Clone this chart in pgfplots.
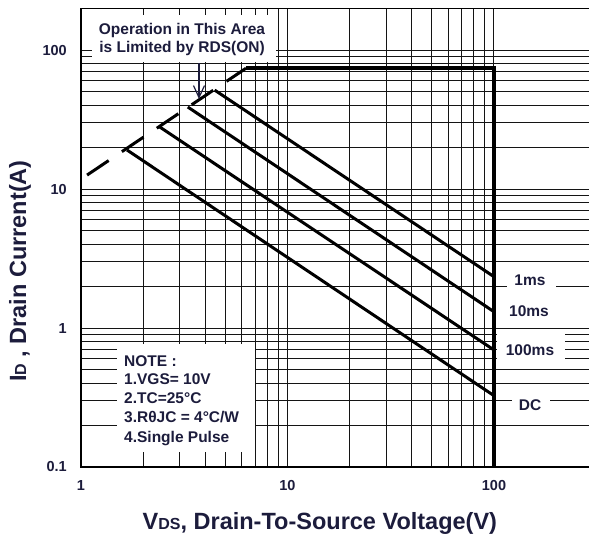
\documentclass[border=0pt]{standalone}
\usepackage{fontspec}
\setmainfont{Liberation Sans}
\usepackage{pgfplots}
\pgfplotsset{compat=1.18}
\usetikzlibrary{arrows.meta}
\definecolor{txt}{HTML}{1C1C3C}
\begin{document}
\begin{tikzpicture}
\useasboundingbox (-81pt,-75pt) rectangle (508pt,467pt);
\begin{axis}[
  xmode=log, ymode=log,
  scale only axis, width=511.5pt, height=458.8pt,
  xmin=1, xmax=300, ymin=0.1, ymax=200,
  xtick={1,10,100}, xticklabels={1,10,100},
  ytick={0.1,1,10,100}, yticklabels={0.1,1,10,100},
  grid=both,
  major grid style={black!92, line width=1pt},
  minor grid style={black!92, line width=1pt},
  major tick length=0pt, minor tick length=0pt,
  axis line style={black, line width=1.1pt},
  ticklabel style={font=\fontsize{14.5}{16}\selectfont\bfseries, text=txt, inner sep=0pt},
  xticklabel style={anchor=north, yshift=-13pt},
  yticklabel style={anchor=east, xshift=-14pt},
  xlabel={V{\fontsize{16}{16}\selectfont DS}, Drain-To-Source Voltage(V)},
  ylabel={I{\fontsize{16}{16}\selectfont D} , Drain Current(A)},
  label style={font=\fontsize{23.5}{27}\selectfont\bfseries, text=txt},
  xlabel style={at={(axis description cs:0.467,-0.122)}, anchor=center},
  ylabel style={at={(axis description cs:-0.1193,0.427)}, anchor=center},
]
\addplot[line width=3pt, dash pattern=on 26pt off 16pt] coordinates {(1.07,12.6) (6.3,74)};
\addplot[line width=4.2pt, line join=miter] coordinates {(6.3,74) (100,74) (100,0.1)};
\addplot[line width=3pt] coordinates {(4.44,51.5) (100,2.34)};
\addplot[line width=3pt] coordinates {(3.29,38.9) (100,1.31)};
\addplot[line width=3pt] coordinates {(2.41,27.9) (100,0.695)};
\addplot[line width=3pt] coordinates {(1.67,19.1) (100,0.326)};
\end{axis}
% annotation boxes
\fill[white] (11pt,405pt) rectangle (195pt,452pt);
\fill[white] (36pt,15pt) rectangle (174pt,123pt);
\fill[white] (426pt,172pt) rectangle (475pt,202pt);
\fill[white] (419pt,141pt) rectangle (484pt,172pt);
\fill[white] (416pt,104pt) rectangle (484pt,138pt);
\fill[white] (431pt,47pt) rectangle (469pt,81pt);
\begin{scope}[every node/.style={text=txt, font=\fontsize{15.5}{17}\selectfont\bfseries, inner sep=0pt}]
\node[anchor=base] at (101pt,432pt) {Operation in This Area};
\node[anchor=base] at (101pt,414pt) {is Limited by RDS(ON)};
\node[anchor=base west] at (43pt,101pt) {NOTE :};
\node[anchor=base west] at (43pt,83pt) {1.VGS= 10V};
\node[anchor=base west] at (43pt,64pt) {2.TC=25°C};
\node[anchor=base west] at (43pt,44.3pt) {3.RθJC = 4°C/W};
\node[anchor=base west] at (43pt,25pt) {4.Single Pulse};
\node[anchor=base] at (449pt,182pt) {1ms};
\node[anchor=base] at (448pt,150.3pt) {10ms};
\node[anchor=base] at (449pt,112pt) {100ms};
\node[anchor=base] at (449pt,56.3pt) {DC};
\end{scope}
\draw[txt, line width=1.2pt, -{Straight Barb[length=12pt,width=11pt]}] (118pt,404pt) -- (118pt,368pt);
\end{tikzpicture}
\end{document}
